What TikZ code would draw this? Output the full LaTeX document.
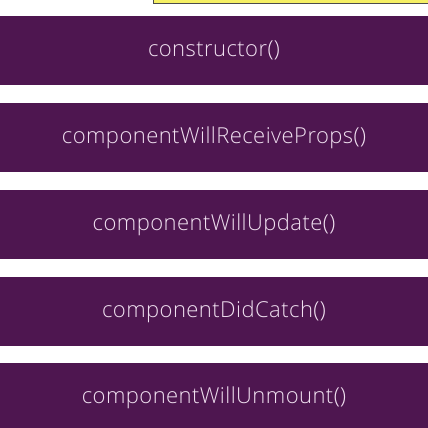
\documentclass[tikz,border=0pt]{standalone}
\usepackage{fontspec}
\setmainfont{Open Sans}[UprightFont=* Light, LetterSpace=2]
\usetikzlibrary{positioning}

\definecolor{lifebar}{HTML}{4E1650}
\definecolor{lifetext}{HTML}{F0E0F0}
\definecolor{notefill}{HTML}{F5F064}

\tikzset{
  method/.style={rectangle, fill=lifebar, minimum width=434pt,
    minimum height=69pt, inner sep=0pt,
    text=lifetext, font=\fontsize{22}{26}\selectfont},
}

\begin{document}
\begin{tikzpicture}[x=1pt, y=1pt]
  % Define canvas
  \def\W{428}
  \def\H{428}
  \useasboundingbox (0,0) rectangle (\W,\H);
  \fill[white] (0,0) rectangle (\W,\H);

  % --- Note box (cut off at the top) ---
  \draw[fill=notefill, draw=gray!60!black, line width=0.8pt] (153,425) rectangle (\W+5,\H+10);

  % --- Lifecycle methods ---
  \node[method] (ctor) at (\W/2, 377.5) {constructor()};
  \node[method] (receive) at (\W/2, 290.5) {componentWillReceiveProps()};
  \node[method] (update) at (\W/2, 203.5) {componentWillUpdate()};
  \node[method] (catch) at (\W/2, 116.5) {componentDidCatch()};
  \node[method] (unmount) at (\W/2, 30.5) {componentWillUnmount()};

\end{tikzpicture}
\end{document}
